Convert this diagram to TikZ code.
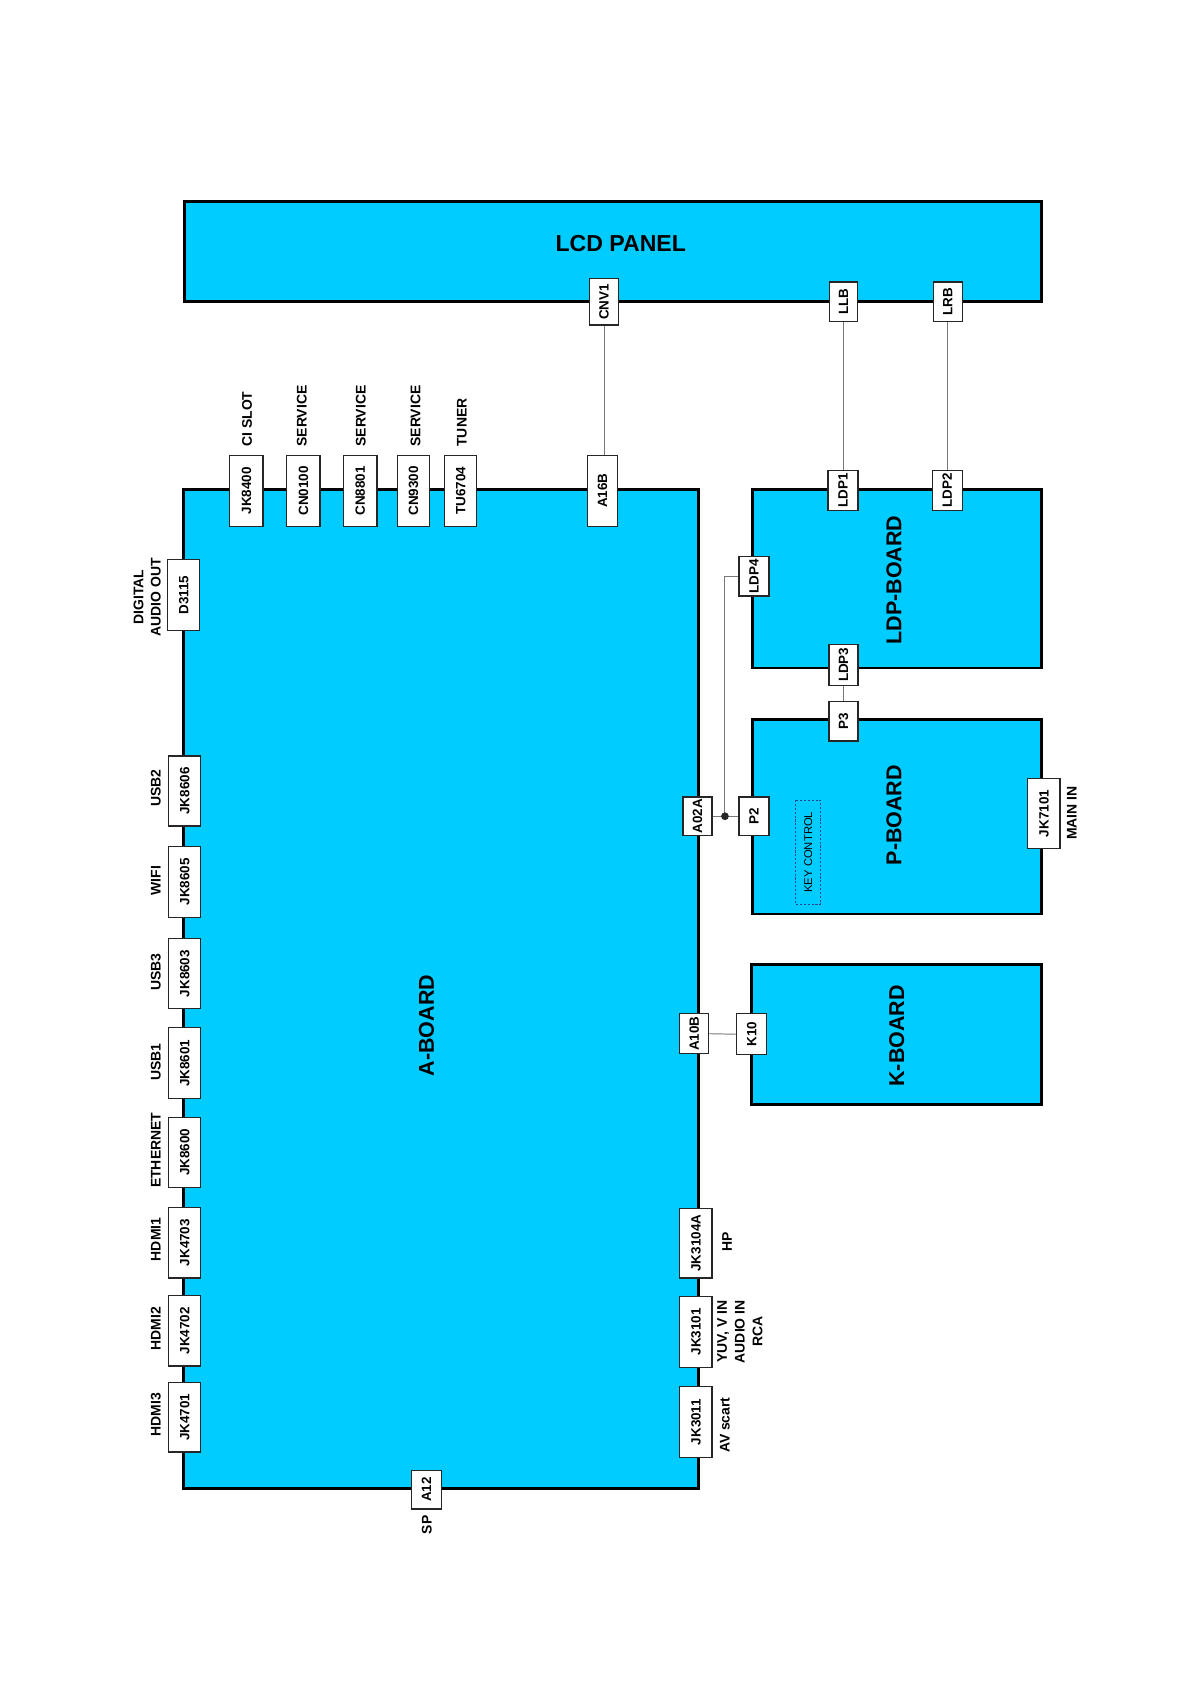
\documentclass[tikz,border=0pt]{standalone}
\usepackage{fontspec}
\setmainfont{Liberation Sans}
\definecolor{boardcyan}{RGB}{0,204,255}
\definecolor{wiregray}{RGB}{120,120,120}
\definecolor{keyblue}{RGB}{40,70,140}
\tikzset{
  board/.style={draw=black, line width=2.7pt, fill=boardcyan, inner sep=0pt},
  boardlabel/.style={font=\fontsize{20}{22}\selectfont\bfseries, inner sep=0pt},
  conn/.style={draw=black!85, line width=1.2pt, fill=white, rotate=90, inner sep=0pt,
               font=\fontsize{12.5}{13}\selectfont\bfseries},
  side/.style={rotate=90, inner sep=0pt, font=\fontsize{13}{16}\selectfont\bfseries, align=center},
  wire/.style={draw=wiregray, line width=0.9pt},
}
\begin{document}
\begin{tikzpicture}[x=1pt, y=-1pt]
\useasboundingbox (0,0) rectangle (1108,1568);
% boards
\node[board, minimum width=798pt, minimum height=93pt] (LCD) at (571,234.5) {};
\node[board, minimum width=479pt, minimum height=930pt] (AB) at (410.5,921) {};
\node[board, minimum width=269pt, minimum height=166pt] (LDPB) at (835.5,539) {};
\node[board, minimum width=269pt, minimum height=181pt] (PB) at (835.5,760.5) {};
\node[board, minimum width=270pt, minimum height=130pt] (KB) at (835,963) {};
% board labels
\node[boardlabel, font=\fontsize{21.5}{23}\selectfont\bfseries] (LCDt) at (578,227) {LCD PANEL};
\node[boardlabel, rotate=90] (ABt) at (397,955) {A-BOARD};
\node[boardlabel, rotate=90] (LDPBt) at (832.5,540) {LDP-BOARD};
\node[boardlabel, rotate=90] (PBt) at (832.5,759) {P-BOARD};
\node[boardlabel, rotate=90] (KBt) at (835,964.5) {K-BOARD};
% LCD connectors
\node[conn, minimum width=43pt, minimum height=27pt] (CNV1) at (562.5,281) {CNV1};
\node[conn, minimum width=37pt, minimum height=26pt] (LLB) at (785.5,281) {LLB};
\node[conn, minimum width=37pt, minimum height=27pt] (LRB) at (882.5,281) {LRB};
% A-board top connectors
\node[conn, minimum width=66pt, minimum height=31pt] (JK8400) at (229.5,457) {JK8400};
\node[conn, minimum width=66pt, minimum height=31pt] (CN0100) at (282.5,457) {CN0100};
\node[conn, minimum width=66pt, minimum height=31pt] (CN8801) at (335.5,457) {CN8801};
\node[conn, minimum width=66pt, minimum height=30pt] (CN9300) at (385,457) {CN9300};
\node[conn, minimum width=66pt, minimum height=30pt] (TU6704) at (429,457) {TU6704};
\node[conn, minimum width=66pt, minimum height=28pt] (A16B) at (561,457) {A16B};
\node[side, anchor=west] (lCI) at (230,416) {CI SLOT};
\node[side, anchor=west] (lS1) at (281,416) {SERVICE};
\node[side, anchor=west] (lS2) at (336,416) {SERVICE};
\node[side, anchor=west] (lS3) at (387,416) {SERVICE};
\node[side, anchor=west] (lTU) at (430,416) {TUNER};
% A-board left connectors
\node[conn, minimum width=66pt, minimum height=30pt] (D3115) at (171,554) {D3115};
\node[conn, minimum width=65pt, minimum height=30pt] (JK8606) at (172,736.5) {JK8606};
\node[conn, minimum width=66pt, minimum height=30pt] (JK8605) at (172,821) {JK8605};
\node[conn, minimum width=65pt, minimum height=30pt] (JK8603) at (172,906.5) {JK8603};
\node[conn, minimum width=66pt, minimum height=30pt] (JK8601) at (172,990) {JK8601};
\node[conn, minimum width=65pt, minimum height=30pt] (JK8600) at (172,1073) {JK8600};
\node[conn, minimum width=66pt, minimum height=30pt] (JK4703) at (172,1157) {JK4703};
\node[conn, minimum width=66pt, minimum height=30pt] (JK4702) at (172,1239) {JK4702};
\node[conn, minimum width=65pt, minimum height=30pt] (JK4701) at (172,1319.5) {JK4701};
\node[side] (lDAO) at (137,556) {DIGITAL\\AUDIO OUT};
\node[side] (lUSB2) at (145,734) {USB2};
\node[side] (lWIFI) at (145,820) {WIFI};
\node[side] (lUSB3) at (145,905) {USB3};
\node[side] (lUSB1) at (145,989) {USB1};
\node[side] (lETH) at (145,1071) {ETHERNET};
\node[side] (lH1) at (145,1154) {HDMI1};
\node[side] (lH2) at (145,1237) {HDMI2};
\node[side] (lH3) at (145,1317) {HDMI3};
% A-board bottom
\node[conn, minimum width=36pt, minimum height=28pt] (A12) at (397,1387) {A12};
\node[side, anchor=east] (lSP) at (397.5,1411) {SP};
% A-board right connectors
\node[conn, minimum width=36pt, minimum height=27pt] (A02A) at (649.5,760) {A02A};
\node[conn, minimum width=37pt, minimum height=27pt] (A10B) at (646.5,962.5) {A10B};
\node[conn, minimum width=65pt, minimum height=30pt] (JK3104A) at (648,1157.5) {JK3104A};
\node[conn, minimum width=66pt, minimum height=30pt] (JK3101) at (648,1240) {JK3101};
\node[conn, minimum width=66pt, minimum height=30pt] (JK3011) at (648,1324) {JK3011};
\node[side] (lHP) at (677,1156) {HP};
\node[side, font=\fontsize{13}{16.5}\selectfont\bfseries] (lYUV) at (689,1240) {YUV, V IN\\AUDIO IN\\RCA};
\node[side] (lAV) at (675,1327) {AV scart};
% LDP-board connectors
\node[conn, minimum width=37pt, minimum height=28pt] (LDP1) at (785,456.5) {LDP1};
\node[conn, minimum width=37pt, minimum height=28pt] (LDP2) at (882,456.5) {LDP2};
\node[conn, minimum width=37pt, minimum height=28pt] (LDP4) at (702,536.5) {LDP4};
\node[conn, minimum width=38pt, minimum height=27pt] (LDP3) at (785.5,619) {LDP3};
% P-board connectors
\node[conn, minimum width=37pt, minimum height=27pt] (P3) at (785.5,671.5) {P3};
\node[conn, minimum width=36pt, minimum height=28pt] (P2) at (702,760) {P2};
\node[conn, minimum width=65pt, minimum height=30pt] (JK7101) at (972,757.5) {JK7101};
\node[side] (lMAIN) at (998,757) {MAIN IN};
\node[draw=keyblue, dash pattern=on 2pt off 1.6pt, line width=0.8pt, rotate=90, inner sep=0pt,
      minimum width=97pt, minimum height=23pt, font=\fontsize{10.5}{12}\selectfont] (KC) at (752.5,793.5) {KEY CONTROL};
% K-board connector
\node[conn, minimum width=38pt, minimum height=28pt] (K10) at (700,963) {K10};
% wires
\draw[wire] (CNV1.west) -- (CNV1.west |- A16B.east);
\draw[wire] (LLB.west) -- (LLB.west |- LDP1.east);
\draw[wire] (LRB.west) -- (LRB.west |- LDP2.east);
\draw[wire] (LDP3.west) -- (LDP3.west |- P3.east);
\draw[wire] (A02A.south) -- (P2.north);
\coordinate (J) at (675,760);
\draw[wire] (J) |- (LDP4.north);
\fill[black!85] (J) circle (3.6pt);
\draw[wire] (A10B.south) -- (K10.north);
\end{tikzpicture}
\end{document}
